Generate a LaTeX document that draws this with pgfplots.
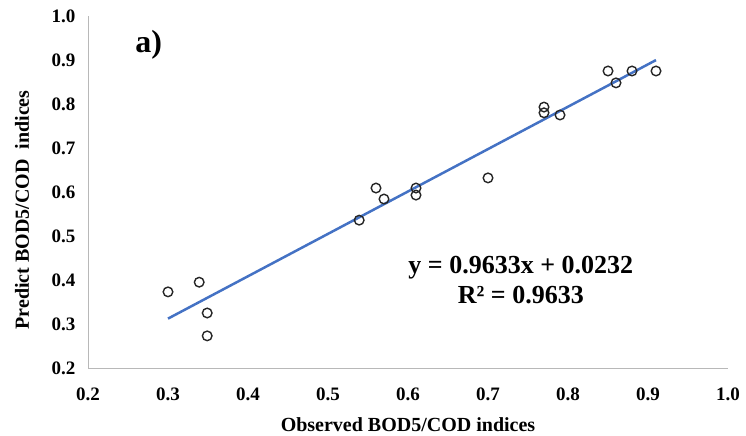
\documentclass[border=0pt]{standalone}
\usepackage{pgfplots}
\pgfplotsset{compat=1.18}
\usepackage{fontspec}
\setmainfont{Liberation Serif}
\usetikzlibrary{calc}
\definecolor{trend}{HTML}{4472C4}
\begin{document}
\begin{tikzpicture}
\begin{axis}[
  scale only axis,
  width=640pt, height=352pt,
  xmin=0.2, xmax=1.0, ymin=0.2, ymax=1.0,
  xtick={0.2,0.3,...,1.0}, ytick={0.2,0.3,...,1.0},
  axis x line=bottom, axis y line=left,
  axis line style={-, draw=black!28, line width=0.8pt},
  major tick length=0pt,
  /pgf/number format/assume math mode=true,
  /pgf/number format/.cd, fixed, fixed zerofill, precision=1, /pgfplots/.cd,
  xticklabel style={font=\fontsize{19}{21}\selectfont\bfseries, yshift=-16pt},
  yticklabel style={font=\fontsize{19}{21}\selectfont\bfseries, xshift=-9pt},
  xlabel={Observed BOD5/COD indices},
  ylabel={Predict BOD5/COD\ \ indices},
  xlabel style={font=\fontsize{20}{22}\selectfont\bfseries, at={(axis description cs:0.5,-0.16)}, anchor=center},
  ylabel style={font=\fontsize{20}{22}\selectfont\bfseries, at={(axis description cs:-0.103,0.449)}, anchor=center, rotate=0},
  clip=false,
]
\addplot[only marks, mark=o, mark size=4.8pt, mark options={draw=black!85, line width=1.4pt}] coordinates {
(0.300,0.373) (0.339,0.395) (0.349,0.325) (0.349,0.273)
(0.539,0.536) (0.560,0.609) (0.570,0.584) (0.610,0.609) (0.610,0.593)
(0.700,0.632) (0.770,0.793) (0.770,0.780) (0.790,0.775)
(0.850,0.875) (0.860,0.848) (0.880,0.875) (0.910,0.875)
};
\addplot[trend, line width=2.5pt] coordinates {(0.30,0.3122) (0.91,0.8998)};
\node[font=\fontsize{26}{28}\selectfont\bfseries] at (axis cs:0.741,0.427) {y = 0.9633x + 0.0232};
\node[font=\fontsize{26}{28}\selectfont\bfseries] at (axis cs:0.741,0.366) {R² = 0.9633};
\node[font=\fontsize{32}{34}\selectfont\bfseries] at (axis cs:0.276,0.934) {a)};
\end{axis}
\pgfresetboundingbox
\path ($(current axis.south west)+(-88pt,-68pt)$) rectangle ($(current axis.north east)+(18pt,16pt)$);
\end{tikzpicture}
\end{document}
